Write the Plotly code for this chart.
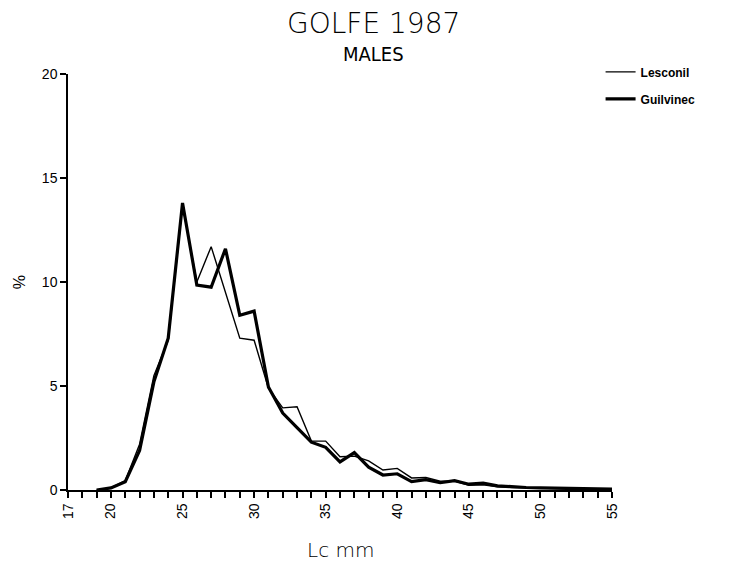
import plotly.graph_objects as go

# Carapace length classes (mm)
lc_mm = list(range(19, 56))

# Percentage of males per length class
lesconil = [0.0, 0.1, 0.45, 2.2, 5.5, 7.2, 13.7, 10.0, 11.7, 9.5, 7.3, 7.2, 4.9, 3.95,
            4.0, 2.35, 2.35, 1.6, 1.63, 1.4, 0.96, 1.04, 0.58, 0.6, 0.42, 0.43, 0.22,
            0.25, 0.15, 0.12, 0.1, 0.08, 0.07, 0.06, 0.05, 0.04, 0.03]
guilvinec = [0.0, 0.1, 0.4, 1.9, 5.2, 7.3, 13.8, 9.85, 9.75, 11.6, 8.4, 8.6, 4.95, 3.7,
             3.0, 2.3, 2.05, 1.35, 1.8, 1.1, 0.72, 0.78, 0.4, 0.5, 0.35, 0.45, 0.28,
             0.33, 0.2, 0.15, 0.12, 0.1, 0.08, 0.07, 0.05, 0.05, 0.04]

x_ticks = [17, 20, 25, 30, 35, 40, 45, 50, 55]
y_ticks = [0, 5, 10, 15, 20]

font = "Liberation Sans, Arial, sans-serif"

fig = go.Figure()
fig.add_trace(go.Scatter(x=lc_mm, y=lesconil, mode="lines", name="Lesconil",
                         line=dict(color="black", width=1.4), legendgroup="a"))
fig.add_trace(go.Scatter(x=lc_mm, y=guilvinec, mode="lines", name="Guilvinec",
                         line=dict(color="black", width=3.2), legendgroup="b"))

fig.update_layout(
    template="none",
    width=733, height=565,
    margin=dict(l=68, r=121, t=74, b=75),
    paper_bgcolor="white", plot_bgcolor="white",
    font=dict(family=font, color="black", size=13),
    showlegend=True,
    legend=dict(x=0.979, y=1.04, xanchor="left", yanchor="top",
                font=dict(size=12, family=font, weight="bold", color="black"),
                traceorder="grouped", tracegroupgap=8, bgcolor="rgba(0,0,0,0)"),
    annotations=[
        dict(text="GOLFE 1987", xref="paper", yref="paper", x=0.561, y=1.0,
             yshift=51, showarrow=False,
             font=dict(size=28, family="DejaVu Sans, sans-serif", weight=200, color="black"),
             xanchor="center", yanchor="middle"),
        dict(text="MALES", xref="paper", yref="paper", x=0.561, y=1.0,
             yshift=20, showarrow=False,
             font=dict(size=20, family="DejaVu Sans Condensed, DejaVu Sans, sans-serif",
                       color="black"),
             xanchor="center", yanchor="middle"),
        dict(text="Lc mm", xref="paper", yref="paper", x=0.5, y=0.0,
             yshift=-60, showarrow=False,
             font=dict(size=20, family="DejaVu Sans, sans-serif", weight=200, color="black"),
             xanchor="center", yanchor="middle"),
    ],
)

fig.update_xaxes(
    range=[17, 55], tickmode="array", tickvals=x_ticks, ticktext=[str(v) for v in x_ticks],
    tickangle=-90, ticks="outside", ticklen=6, tickwidth=1.5, tickcolor="black",
    minor=dict(dtick=1, tick0=17, ticks="outside", ticklen=6, tickwidth=1.5,
               tickcolor="black", showgrid=False),
    showline=True, linecolor="black", linewidth=1.5, showgrid=False, zeroline=False,
    tickfont=dict(size=14, color="black"), automargin=False,
)
fig.update_yaxes(
    range=[0, 20], tickmode="array", tickvals=y_ticks,
    ticks="outside", ticklen=6, tickwidth=1.5, tickcolor="black",
    showline=True, linecolor="black", linewidth=1.5, showgrid=False, zeroline=False,
    tickfont=dict(size=14, color="black"), automargin=False,
    title=dict(text="%", font=dict(size=16, color="black"), standoff=12),
)

fig.write_html("out.html")
